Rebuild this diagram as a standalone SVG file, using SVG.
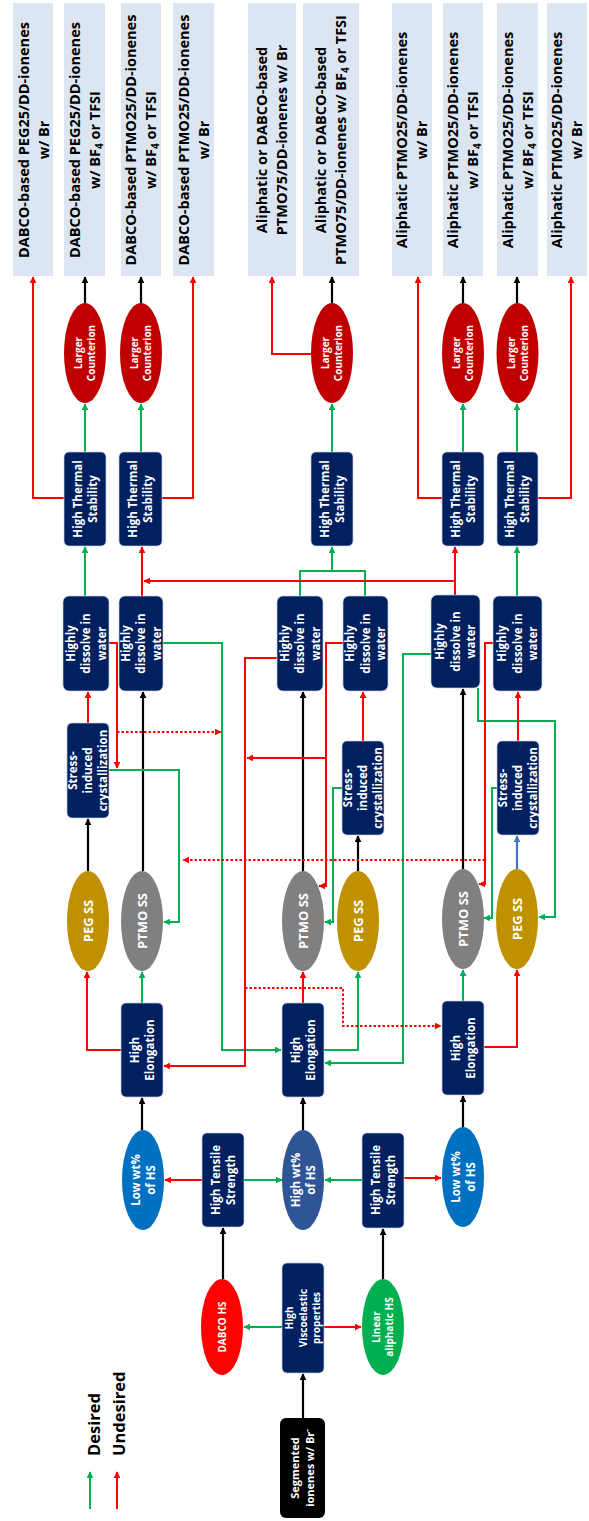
<svg xmlns="http://www.w3.org/2000/svg" width="589" height="1521" viewBox="0 0 589 1521">
<style>
  .nb { fill:#002060; stroke:#c3cde3; stroke-width:0.7; }
  .out { fill:#DCE6F2; }
  .t { font-family:'Open Sans','Liberation Sans',sans-serif; font-weight:bold; fill:#fff; text-anchor:middle; }
  .s10 { font-size:10px; }
  .s11 { font-size:11px; }
  .s115 { font-size:11.5px; }
  .s13 { font-size:13px; }
  .ot { font-family:'Open Sans','Liberation Sans',sans-serif; font-weight:bold; font-size:14.5px; fill:#000; text-anchor:middle; }
  .lg { font-family:'Open Sans','Liberation Sans',sans-serif; font-weight:bold; font-size:16.5px; fill:#000; }
  .cg { fill:none; stroke:#00B050; stroke-width:2; }
  .cr { fill:none; stroke:#FF0000; stroke-width:2; }
  .ck { fill:none; stroke:#000; stroke-width:2.2; }
  .cb { fill:none; stroke:#4472C4; stroke-width:2.2; }
  .cd { fill:none; stroke:#FF0000; stroke-width:2; stroke-dasharray:2.5 2; }
</style>
<defs>
  <marker id="ag" viewBox="0 0 10 10" refX="9" refY="5" markerWidth="7" markerHeight="7" markerUnits="userSpaceOnUse" orient="auto"><path d="M0,0 L10,5 L0,10 z" fill="#00B050"/></marker>
  <marker id="ar" viewBox="0 0 10 10" refX="9" refY="5" markerWidth="7" markerHeight="7" markerUnits="userSpaceOnUse" orient="auto"><path d="M0,0 L10,5 L0,10 z" fill="#FF0000"/></marker>
  <marker id="ak" viewBox="0 0 10 10" refX="9" refY="5" markerWidth="7" markerHeight="7" markerUnits="userSpaceOnUse" orient="auto"><path d="M0,0 L10,5 L0,10 z" fill="#000"/></marker>
  <marker id="ab" viewBox="0 0 10 10" refX="9" refY="5" markerWidth="7" markerHeight="7" markerUnits="userSpaceOnUse" orient="auto"><path d="M0,0 L10,5 L0,10 z" fill="#4472C4"/></marker>
</defs>
<rect width="589" height="1521" fill="#fff"/>

<!-- connectors -->
<g id="connectors">
  <!-- black -->
  <path class="ck" d="M303,1418 V1374" marker-end="url(#ak)"/>
  <path class="ck" d="M223,1279 V1228" marker-end="url(#ak)"/>
  <path class="ck" d="M383,1279 V1229" marker-end="url(#ak)"/>
  <path class="ck" d="M142,1130 V1098" marker-end="url(#ak)"/>
  <path class="ck" d="M303,1130 V1098" marker-end="url(#ak)"/>
  <path class="ck" d="M463,1127 V1096" marker-end="url(#ak)"/>
  <path class="ck" d="M88,871 V819" marker-end="url(#ak)"/>
  <path class="ck" d="M143,871 V692" marker-end="url(#ak)"/>
  <path class="ck" d="M303,871 V692" marker-end="url(#ak)"/>
  <path class="ck" d="M358,871 V836" marker-end="url(#ak)"/>
  <path class="ck" d="M463,869 V689" marker-end="url(#ak)"/>
  <path class="ck" d="M85,303 V277" marker-end="url(#ak)"/>
  <path class="ck" d="M141,303 V277" marker-end="url(#ak)"/>
  <path class="ck" d="M332,303 V277" marker-end="url(#ak)"/>
  <path class="ck" d="M463,303 V277" marker-end="url(#ak)"/>
  <path class="ck" d="M517,303 V277" marker-end="url(#ak)"/>
  <!-- blue -->
  <path class="cb" d="M517,869 V836" marker-end="url(#ab)"/>
  <!-- green -->
  <path class="cg" d="M282,1327 H244" marker-end="url(#ag)"/>
  <path class="cg" d="M244,1180 H282" marker-end="url(#ag)"/>
  <path class="cg" d="M362,1180 H325" marker-end="url(#ag)"/>
  <path class="cg" d="M142,1003 V972" marker-end="url(#ag)"/>
  <path class="cg" d="M324,1050 H358 V972" marker-end="url(#ag)"/>
  <path class="cg" d="M463,1001 V970" marker-end="url(#ag)"/>
  <path class="cg" d="M163,643 H222 V1050 H281" marker-end="url(#ag)"/>
  <path class="cg" d="M109,770 H179 V922 H164" marker-end="url(#ag)"/>
  <path class="cg" d="M342,788 H333 V922 H325" marker-end="url(#ag)"/>
  <path class="cg" d="M431,654 H403 V1063 H325" marker-end="url(#ag)"/>
  <path class="cg" d="M478,688 V721 H555 V917 H539" marker-end="url(#ag)"/>
  <path class="cg" d="M497,788 H492 V918 H484" marker-end="url(#ag)"/>
  <path class="cg" d="M85,596 V547" marker-end="url(#ag)"/>
  <path class="cg" d="M300,596 V571 H365 V596"/>
  <path class="cg" d="M332,571 V547" marker-end="url(#ag)"/>
  <path class="cg" d="M517,596 V547" marker-end="url(#ag)"/>
  <path class="cg" d="M85,452 V404" marker-end="url(#ag)"/>
  <path class="cg" d="M141,452 V404" marker-end="url(#ag)"/>
  <path class="cg" d="M332,452 V404" marker-end="url(#ag)"/>
  <path class="cg" d="M463,452 V404" marker-end="url(#ag)"/>
  <path class="cg" d="M517,452 V404" marker-end="url(#ag)"/>
  <!-- red -->
  <path class="cr" d="M324,1327 H361" marker-end="url(#ar)"/>
  <path class="cr" d="M202,1180 H165" marker-end="url(#ar)"/>
  <path class="cr" d="M404,1178 H441" marker-end="url(#ar)"/>
  <path class="cr" d="M121,1050 H87 V972" marker-end="url(#ar)"/>
  <path class="cr" d="M303,1003 V972" marker-end="url(#ar)"/>
  <path class="cr" d="M484,1047 H517 V970" marker-end="url(#ar)"/>
  <path class="cr" d="M88,723 V692" marker-end="url(#ar)"/>
  <path class="cr" d="M142,596 V547" marker-end="url(#ar)"/>
  <path class="cr" d="M455,595 V547" marker-end="url(#ar)"/>
  <path class="cr" d="M455,581 H144" marker-end="url(#ar)"/>
  <path class="cr" d="M363,741 V692" marker-end="url(#ar)"/>
  <path class="cr" d="M518,741 V692" marker-end="url(#ar)"/>
  <path class="cr" d="M109,643 H117 V768" marker-end="url(#ar)"/>
  <path class="cr" d="M277,658 H245 V1066 H164" marker-end="url(#ar)"/>
  <path class="cr" d="M343,643 H326 V886 H319" marker-end="url(#ar)"/>
  <path class="cr" d="M326,758 H247" marker-end="url(#ar)"/>
  <path class="cr" d="M493,643 H485 V884 H479" marker-end="url(#ar)"/>
  <path class="cr" d="M64,498 H33 V277" marker-end="url(#ar)"/>
  <path class="cr" d="M162,498 H193 V277" marker-end="url(#ar)"/>
  <path class="cr" d="M311,354 H272 V277" marker-end="url(#ar)"/>
  <path class="cr" d="M442,498 H418 V277" marker-end="url(#ar)"/>
  <path class="cr" d="M538,498 H571 V277" marker-end="url(#ar)"/>
  <!-- dotted red -->
  <path class="cd" d="M117,732 H221" marker-end="url(#ar)"/>
  <path class="cd" d="M245,988 H343 V1026 H441" marker-end="url(#ar)"/>
  <path class="cd" d="M485,860 H183" marker-end="url(#ar)"/>
</g>

<!-- legend -->
<g id="legend">
  <path class="cg" d="M90,1509 V1472" marker-end="url(#ag)"/>
  <path class="cr" d="M117,1509 V1472" marker-end="url(#ar)"/>
  <text class="lg" transform="translate(100 1456) rotate(-90)">Desired</text>
  <text class="lg" transform="translate(125 1456) rotate(-90)">Undesired</text>
</g>

<!-- start -->
<g id="segmented">
  <rect x="280" y="1418" width="45" height="100" rx="6" fill="#000"/>
  <text class="t s11" transform="translate(302.5 1468) rotate(-90)"><tspan x="0" y="-3.5">Segmented</tspan><tspan x="0" y="11.5">ionenes w/ Br<tspan dy="-4" font-size="8">-</tspan></tspan></text>
</g>
<g id="viscoelastic">
  <rect class="nb" x="282" y="1263" width="42" height="110" rx="5"/>
  <text class="t s10" transform="translate(303 1318) rotate(-90)"><tspan x="0" y="-9.9">High</tspan><tspan x="0" y="3.6">Viscoelastic</tspan><tspan x="0" y="17.1">properties</tspan></text>
</g>
<g id="dabco-hs">
  <ellipse cx="222" cy="1327" rx="21" ry="48" fill="#FF0000"/>
  <text class="t s10" transform="translate(222 1327) rotate(-90)"><tspan x="0" y="3.6">DABCO HS</tspan></text>
</g>
<g id="linear-hs">
  <ellipse cx="383" cy="1327" rx="21" ry="48" fill="#00B050"/>
  <text class="t s10" transform="translate(383 1327) rotate(-90)"><tspan x="0" y="-2.9">Linear</tspan><tspan x="0" y="10.1">aliphatic HS</tspan></text>
</g>

<!-- tensile strength -->
<g id="tensile-left">
  <rect class="nb" x="202" y="1133" width="42" height="94" rx="5"/>
  <text class="t s115" transform="translate(223 1180) rotate(-90)"><tspan x="0" y="-3.4">High Tensile</tspan><tspan x="0" y="11.6">Strength</tspan></text>
</g>
<g id="tensile-right">
  <rect class="nb" x="362" y="1133" width="42" height="95" rx="5"/>
  <text class="t s115" transform="translate(383 1180) rotate(-90)"><tspan x="0" y="-3.4">High Tensile</tspan><tspan x="0" y="11.6">Strength</tspan></text>
</g>

<!-- hard segment content -->
<g id="low-wt-left">
  <ellipse cx="143" cy="1180" rx="21" ry="50" fill="#0070C0"/>
  <text class="t s115" transform="translate(143 1180) rotate(-90)"><tspan x="0" y="-3.4">Low wt%</tspan><tspan x="0" y="11.6">of HS</tspan></text>
</g>
<g id="high-wt">
  <ellipse cx="303" cy="1180" rx="21" ry="50" fill="#2F5597"/>
  <text class="t s115" transform="translate(303 1180) rotate(-90)"><tspan x="0" y="-3.4">High wt%</tspan><tspan x="0" y="11.6">of HS</tspan></text>
</g>
<g id="low-wt-right">
  <ellipse cx="463" cy="1177" rx="21" ry="50" fill="#0070C0"/>
  <text class="t s115" transform="translate(463 1177) rotate(-90)"><tspan x="0" y="-3.4">Low wt%</tspan><tspan x="0" y="11.6">of HS</tspan></text>
</g>

<!-- elongation -->
<g id="elong-left">
  <rect class="nb" x="121" y="1003" width="42" height="94" rx="5"/>
  <text class="t s115" transform="translate(142 1050) rotate(-90)"><tspan x="0" y="-3.4">High</tspan><tspan x="0" y="11.6">Elongation</tspan></text>
</g>
<g id="elong-mid">
  <rect class="nb" x="282" y="1003" width="42" height="94" rx="5"/>
  <text class="t s115" transform="translate(303 1050) rotate(-90)"><tspan x="0" y="-3.4">High</tspan><tspan x="0" y="11.6">Elongation</tspan></text>
</g>
<g id="elong-right">
  <rect class="nb" x="442" y="1001" width="42" height="94" rx="5"/>
  <text class="t s115" transform="translate(463 1048) rotate(-90)"><tspan x="0" y="-3.4">High</tspan><tspan x="0" y="11.6">Elongation</tspan></text>
</g>

<!-- soft segments -->
<g id="peg-left">
  <ellipse cx="88" cy="921" rx="21" ry="50" fill="#BF9000"/>
  <text class="t s13" transform="translate(88 921) rotate(-90)"><tspan x="0" y="4.7">PEG SS</tspan></text>
</g>
<g id="ptmo-left">
  <ellipse cx="142" cy="921" rx="21" ry="50" fill="#808080"/>
  <text class="t s13" transform="translate(142 921) rotate(-90)"><tspan x="0" y="4.7">PTMO SS</tspan></text>
</g>
<g id="ptmo-mid">
  <ellipse cx="303" cy="921" rx="21" ry="50" fill="#808080"/>
  <text class="t s13" transform="translate(303 921) rotate(-90)"><tspan x="0" y="4.7">PTMO SS</tspan></text>
</g>
<g id="peg-mid">
  <ellipse cx="358" cy="921" rx="21" ry="50" fill="#BF9000"/>
  <text class="t s13" transform="translate(358 921) rotate(-90)"><tspan x="0" y="4.7">PEG SS</tspan></text>
</g>
<g id="ptmo-right">
  <ellipse cx="463" cy="919" rx="21" ry="50" fill="#808080"/>
  <text class="t s13" transform="translate(463 919) rotate(-90)"><tspan x="0" y="4.7">PTMO SS</tspan></text>
</g>
<g id="peg-right">
  <ellipse cx="517" cy="919" rx="21" ry="50" fill="#BF9000"/>
  <text class="t s13" transform="translate(517 919) rotate(-90)"><tspan x="0" y="4.7">PEG SS</tspan></text>
</g>

<!-- stress-induced crystallization -->
<g id="sic-left">
  <rect class="nb" x="67" y="723" width="42" height="95" rx="5"/>
  <text class="t s115" transform="translate(88 770.5) rotate(-90)"><tspan x="0" y="-10.9">Stress-</tspan><tspan x="0" y="4.1">induced</tspan><tspan x="0" y="19.1">crystallization</tspan></text>
</g>
<g id="sic-mid">
  <rect class="nb" x="342" y="741" width="42" height="94" rx="5"/>
  <text class="t s115" transform="translate(363 788) rotate(-90)"><tspan x="0" y="-10.9">Stress-</tspan><tspan x="0" y="4.1">induced</tspan><tspan x="0" y="19.1">crystallization</tspan></text>
</g>
<g id="sic-right">
  <rect class="nb" x="497" y="741" width="42" height="94" rx="5"/>
  <text class="t s115" transform="translate(518 788) rotate(-90)"><tspan x="0" y="-10.9">Stress-</tspan><tspan x="0" y="4.1">induced</tspan><tspan x="0" y="19.1">crystallization</tspan></text>
</g>

<!-- water solubility -->
<g id="hdw-1">
  <rect class="nb" x="63" y="596" width="46" height="95" rx="6"/>
  <text class="t s115" transform="translate(86 643.5) rotate(-90)"><tspan x="0" y="-11.4">Highly</tspan><tspan x="0" y="4.1">dissolve in</tspan><tspan x="0" y="19.6">water</tspan></text>
</g>
<g id="hdw-2">
  <rect class="nb" x="119" y="596" width="44" height="95" rx="6"/>
  <text class="t s115" transform="translate(141 643.5) rotate(-90)"><tspan x="0" y="-11.4">Highly</tspan><tspan x="0" y="4.1">dissolve in</tspan><tspan x="0" y="19.6">water</tspan></text>
</g>
<g id="hdw-3">
  <rect class="nb" x="277" y="596" width="46" height="95" rx="6"/>
  <text class="t s115" transform="translate(300 643.5) rotate(-90)"><tspan x="0" y="-11.4">Highly</tspan><tspan x="0" y="4.1">dissolve in</tspan><tspan x="0" y="19.6">water</tspan></text>
</g>
<g id="hdw-4">
  <rect class="nb" x="343" y="596" width="45" height="95" rx="6"/>
  <text class="t s115" transform="translate(365.5 643.5) rotate(-90)"><tspan x="0" y="-11.4">Highly</tspan><tspan x="0" y="4.1">dissolve in</tspan><tspan x="0" y="19.6">water</tspan></text>
</g>
<g id="hdw-5">
  <rect class="nb" x="431" y="595" width="49" height="93" rx="6"/>
  <text class="t s115" transform="translate(455.5 641.5) rotate(-90)"><tspan x="0" y="-11.4">Highly</tspan><tspan x="0" y="4.1">dissolve in</tspan><tspan x="0" y="19.6">water</tspan></text>
</g>
<g id="hdw-6">
  <rect class="nb" x="493" y="596" width="49" height="95" rx="6"/>
  <text class="t s115" transform="translate(517.5 643.5) rotate(-90)"><tspan x="0" y="-11.4">Highly</tspan><tspan x="0" y="4.1">dissolve in</tspan><tspan x="0" y="19.6">water</tspan></text>
</g>

<!-- thermal stability -->
<g id="hts-1">
  <rect class="nb" x="64" y="452" width="42" height="94" rx="5"/>
  <text class="t s115" transform="translate(85 499) rotate(-90)"><tspan x="0" y="-3.4">High Thermal</tspan><tspan x="0" y="11.6">Stability</tspan></text>
</g>
<g id="hts-2">
  <rect class="nb" x="119" y="452" width="43" height="94" rx="5"/>
  <text class="t s115" transform="translate(140.5 499) rotate(-90)"><tspan x="0" y="-3.4">High Thermal</tspan><tspan x="0" y="11.6">Stability</tspan></text>
</g>
<g id="hts-3">
  <rect class="nb" x="311" y="452" width="42" height="94" rx="5"/>
  <text class="t s115" transform="translate(332 499) rotate(-90)"><tspan x="0" y="-3.4">High Thermal</tspan><tspan x="0" y="11.6">Stability</tspan></text>
</g>
<g id="hts-4">
  <rect class="nb" x="442" y="452" width="42" height="94" rx="5"/>
  <text class="t s115" transform="translate(463 499) rotate(-90)"><tspan x="0" y="-3.4">High Thermal</tspan><tspan x="0" y="11.6">Stability</tspan></text>
</g>
<g id="hts-5">
  <rect class="nb" x="497" y="452" width="41" height="94" rx="5"/>
  <text class="t s115" transform="translate(517.5 499) rotate(-90)"><tspan x="0" y="-3.4">High Thermal</tspan><tspan x="0" y="11.6">Stability</tspan></text>
</g>

<!-- counterion -->
<g id="lc-1">
  <ellipse cx="85" cy="353" rx="21" ry="50" fill="#C00000"/>
  <text class="t s10" transform="translate(85 353) rotate(-90)"><tspan x="0" y="-2.9">Larger</tspan><tspan x="0" y="10.1">Counterion</tspan></text>
</g>
<g id="lc-2">
  <ellipse cx="141" cy="353" rx="21" ry="50" fill="#C00000"/>
  <text class="t s10" transform="translate(141 353) rotate(-90)"><tspan x="0" y="-2.9">Larger</tspan><tspan x="0" y="10.1">Counterion</tspan></text>
</g>
<g id="lc-3">
  <ellipse cx="332" cy="353" rx="21" ry="50" fill="#C00000"/>
  <text class="t s10" transform="translate(332 353) rotate(-90)"><tspan x="0" y="-2.9">Larger</tspan><tspan x="0" y="10.1">Counterion</tspan></text>
</g>
<g id="lc-4">
  <ellipse cx="463" cy="353" rx="21" ry="50" fill="#C00000"/>
  <text class="t s10" transform="translate(463 353) rotate(-90)"><tspan x="0" y="-2.9">Larger</tspan><tspan x="0" y="10.1">Counterion</tspan></text>
</g>
<g id="lc-5">
  <ellipse cx="517.5" cy="353" rx="21" ry="50" fill="#C00000"/>
  <text class="t s10" transform="translate(517.5 353) rotate(-90)"><tspan x="0" y="-2.9">Larger</tspan><tspan x="0" y="10.1">Counterion</tspan></text>
</g>

<!-- resulting ionenes -->
<g id="out-1">
  <rect class="out" x="13" y="3" width="40" height="273"/>
  <text class="ot" transform="translate(34 140) rotate(-90)"><tspan x="0" y="-4.8">DABCO-based PEG25/DD-ionenes</tspan><tspan x="0" y="15.2">w/ Br</tspan></text>
</g>
<g id="out-2">
  <rect class="out" x="64" y="3" width="41" height="273"/>
  <text class="ot" transform="translate(85 140) rotate(-90)"><tspan x="0" y="-4.8">DABCO-based PEG25/DD-ionenes</tspan><tspan x="0" y="15.2">w/ BF<tspan dy="3" font-size="10">4</tspan><tspan dy="-3"> or TFSI</tspan></tspan></text>
</g>
<g id="out-3">
  <rect class="out" x="121" y="3" width="40" height="273"/>
  <text class="ot" transform="translate(141 140) rotate(-90)"><tspan x="0" y="-4.8">DABCO-based PTMO25/DD-ionenes</tspan><tspan x="0" y="15.2">w/ BF<tspan dy="3" font-size="10">4</tspan><tspan dy="-3"> or TFSI</tspan></tspan></text>
</g>
<g id="out-4">
  <rect class="out" x="173" y="3" width="41" height="273"/>
  <text class="ot" transform="translate(194 140) rotate(-90)"><tspan x="0" y="-4.8">DABCO-based PTMO25/DD-ionenes</tspan><tspan x="0" y="15.2">w/ Br</tspan></text>
</g>
<g id="out-5">
  <rect class="out" x="248" y="3" width="48" height="273"/>
  <text class="ot" transform="translate(272 140) rotate(-90)"><tspan x="0" y="-4.8">Aliphatic or DABCO-based</tspan><tspan x="0" y="15.2">PTMO75/DD-ionenes w/ Br</tspan></text>
</g>
<g id="out-6">
  <rect class="out" x="303" y="3" width="56" height="273"/>
  <text class="ot" transform="translate(331 140) rotate(-90)"><tspan x="0" y="-4.8">Aliphatic or DABCO-based</tspan><tspan x="0" y="15.2">PTMO75/DD-ionenes w/ BF<tspan dy="3" font-size="10">4</tspan><tspan dy="-3"> or TFSI</tspan></tspan></text>
</g>
<g id="out-7">
  <rect class="out" x="392" y="3" width="40" height="273"/>
  <text class="ot" transform="translate(412 140) rotate(-90)"><tspan x="0" y="-4.8">Aliphatic PTMO25/DD-ionenes</tspan><tspan x="0" y="15.2">w/ Br</tspan></text>
</g>
<g id="out-8">
  <rect class="out" x="443" y="3" width="40" height="273"/>
  <text class="ot" transform="translate(463 140) rotate(-90)"><tspan x="0" y="-4.8">Aliphatic PTMO25/DD-ionenes</tspan><tspan x="0" y="15.2">w/ BF<tspan dy="3" font-size="10">4</tspan><tspan dy="-3"> or TFSI</tspan></tspan></text>
</g>
<g id="out-9">
  <rect class="out" x="497" y="3" width="41" height="273"/>
  <text class="ot" transform="translate(518 140) rotate(-90)"><tspan x="0" y="-4.8">Aliphatic PTMO25/DD-ionenes</tspan><tspan x="0" y="15.2">w/ BF<tspan dy="3" font-size="10">4</tspan><tspan dy="-3"> or TFSI</tspan></tspan></text>
</g>
<g id="out-10">
  <rect class="out" x="547" y="3" width="40" height="273"/>
  <text class="ot" transform="translate(567 140) rotate(-90)"><tspan x="0" y="-4.8">Aliphatic PTMO25/DD-ionenes</tspan><tspan x="0" y="15.2">w/ Br</tspan></text>
</g>
</svg>
